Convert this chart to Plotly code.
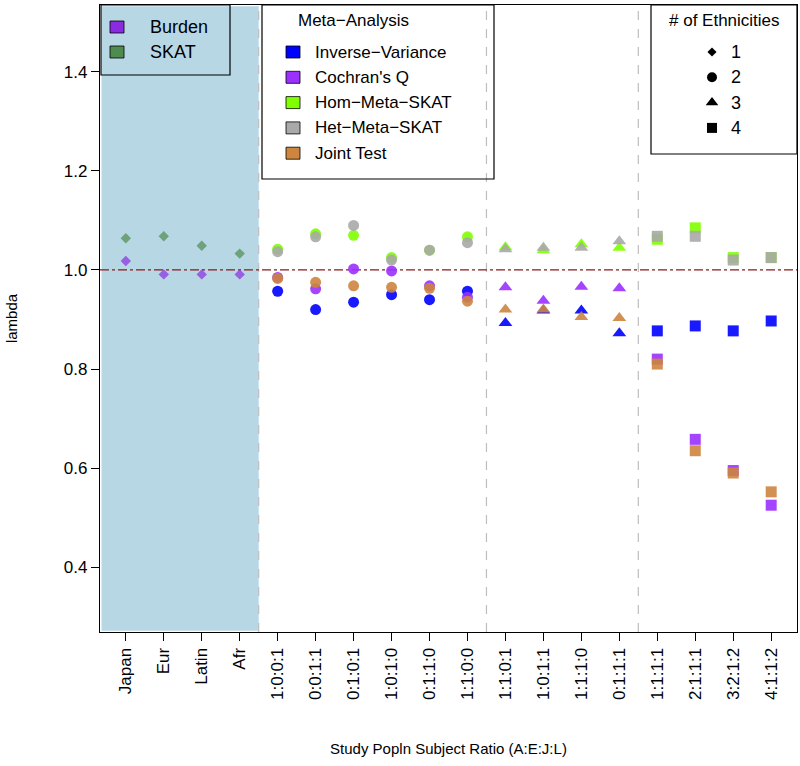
import plotly.graph_objects as go

categories = ["Japan", "Eur", "Latin", "Afr",
              "1:0:0:1", "0:0:1:1", "0:1:0:1", "1:0:1:0", "0:1:1:0", "1:1:0:0",
              "1:1:0:1", "1:0:1:1", "1:1:1:0", "0:1:1:1",
              "1:1:1:1", "2:1:1:1", "3:2:1:2", "4:1:1:2"]
n_ethnicities = [1, 1, 1, 1, 2, 2, 2, 2, 2, 2, 3, 3, 3, 3, 4, 4, 4, 4]

burden = [1.018, 0.991, 0.991, 0.991]
skat = [1.064, 1.068, 1.049, 1.033]

inverse_variance = [0.957, 0.920, 0.935, 0.950, 0.940, 0.957,
                    0.893, 0.918, 0.918, 0.872,
                    0.877, 0.887, 0.877, 0.897]
cochran_q = [0.985, 0.962, 1.002, 0.998, 0.968, 0.945,
             0.965, 0.938, 0.966, 0.963,
             0.820, 0.658, 0.595, 0.525]
hom_meta_skat = [1.042, 1.073, 1.070, 1.025, 1.040, 1.067,
                 1.046, 1.040, 1.052, 1.045,
                 1.062, 1.085, 1.025, 1.025]
het_meta_skat = [1.037, 1.067, 1.090, 1.020, 1.040, 1.055,
                 1.042, 1.045, 1.045, 1.058,
                 1.068, 1.068, 1.020, 1.025]
joint_test = [0.983, 0.975, 0.968, 0.965, 0.963, 0.937,
              0.920, 0.920, 0.905, 0.903,
              0.810, 0.635, 0.590, 0.552]

meta_names = ["Inverse\u2212Variance", "Cochran's Q", "Hom\u2212Meta\u2212SKAT", "Het\u2212Meta\u2212SKAT", "Joint Test"]
meta_colors = ["#0000FF", "#9B30FF", "#7FFF00", "#A9A9A9", "#CD853F"]
meta_values = [inverse_variance, cochran_q, hom_meta_skat, het_meta_skat, joint_test]
single_names = ["Burden", "SKAT"]
single_colors = ["#8A2BE2", "#4E8B4E"]
single_values = [burden, skat]

symbol_map = {1: "diamond", 2: "circle", 3: "triangle-up", 4: "square"}
size_map = {1: 8, 2: 11, 3: 12, 4: 11}

xpos = list(range(1, len(categories) + 1))
meta_x = xpos[4:]
single_x = xpos[:4]

fig = go.Figure()

# shaded region for single-ethnicity studies
fig.add_shape(type="rect", xref="x", yref="paper", x0=0.36, x1=4.5, y0=0.002, y1=0.998,
              fillcolor="#B7D7E5", line_width=0, layer="below")

for xv in [4.5, 10.5, 14.5]:
    fig.add_shape(type="line", xref="x", yref="paper", x0=xv, x1=xv, y0=0, y1=1,
                  line=dict(color="#BEBEBE", width=1.2, dash="dash"), layer="below")

fig.add_shape(type="line", xref="paper", yref="y", x0=0, x1=1, y0=1.0, y1=1.0,
              line=dict(color="#8B1A1A", width=1.2, dash="dashdot"), layer="below")

for name, col, vals in zip(single_names, single_colors, single_values):
    eth = n_ethnicities[:4]
    fig.add_trace(go.Scatter(x=single_x, y=vals, mode="markers", name=name,
                             marker=dict(color=col, symbol=[symbol_map[e] for e in eth],
                                         size=[size_map[e] for e in eth], line_width=0),
                             showlegend=False))

for name, col, vals in zip(meta_names, meta_colors, meta_values):
    eth = n_ethnicities[4:]
    fig.add_trace(go.Scatter(x=meta_x, y=vals, mode="markers", name=name,
                             marker=dict(color=col, symbol=[symbol_map[e] for e in eth],
                                         size=[size_map[e] for e in eth], line_width=0,
                                         opacity=0.9),
                             showlegend=False))

# ---- manual legends (paper coords) ----
L, R_, T, B = 100, 797, 5, 632
W, H = R_ - L, B - T
def px(x):
    return (x - L) / W
def py(y):
    return (B - y) / H

def box(x0, y0, x1, y1):
    fig.add_shape(type="rect", xref="paper", yref="paper", x0=px(x0), x1=px(x1),
                  y0=py(y1), y1=py(y0), line=dict(color="black", width=1.2))

def swatch(cx, cy, color, w=14, h=12):
    fig.add_shape(type="rect", xref="paper", yref="paper",
                  x0=px(cx - w / 2), x1=px(cx + w / 2), y0=py(cy + h / 2), y1=py(cy - h / 2),
                  fillcolor=color, line=dict(color="black", width=0.8))

def text(x, y, s, size=16, anchor="left"):
    fig.add_annotation(xref="paper", yref="paper", x=px(x), y=py(y), text=s, showarrow=False,
                       xanchor=anchor, yanchor="middle", font=dict(size=size, color="black"))

# legend 1
box(101, 5, 230, 75)
for i, (n, c) in enumerate(zip(single_names, single_colors)):
    swatch(117, 27 + i * 25, c)
    text(148, 27 + i * 25, n, size=18)

# legend 2
box(262, 5, 494, 179)
text(353, 21, "Meta\u2212Analysis", size=17, anchor="center")
for i, (n, c) in enumerate(zip(meta_names, meta_colors)):
    swatch(293, 52 + i * 25.3, c)
    text(313, 52 + i * 25.3, n, size=17)

# legend 3
box(651, 5, 797, 154)
text(724, 21, "# of Ethnicities", size=17, anchor="center")
for i, k in enumerate([1, 2, 3, 4]):
    fig.add_trace(go.Scatter(x=[px(712)], y=[py(52 + i * 25.3)], xaxis="x2", yaxis="y2",
                             mode="markers", showlegend=False, hoverinfo="skip",
                             marker=dict(color="black", symbol=symbol_map[k], size=size_map[k] - 1)))
    text(729, 52 + i * 25.3, str(k), size=18)

fig.update_layout(
    width=800, height=766,
    margin=dict(l=L, r=800 - R_, t=T, b=766 - B, autoexpand=False),
    plot_bgcolor="white", paper_bgcolor="white",
    font=dict(family="Liberation Sans, Arial, sans-serif", color="black"),
    showlegend=False,
    xaxis=dict(range=[0.32, 18.68], tickvals=xpos, ticktext=categories, tickangle=-90,
               showline=True, linecolor="black", linewidth=1.2, mirror=True, automargin=False,
               ticks="outside", ticklen=8, tickcolor="black", showgrid=False, zeroline=False,
               tickfont=dict(size=17),
               title=dict(text="Study Popln Subject Ratio (A:E:J:L)", font=dict(size=15), standoff=44)),
    yaxis=dict(range=[0.269, 1.535], tickvals=[0.4, 0.6, 0.8, 1.0, 1.2, 1.4],
               ticktext=["0.4", "0.6", "0.8", "1.0", "1.2", "1.4"],
               showline=True, linecolor="black", linewidth=1.2, mirror=True, automargin=False,
               ticks="outside", ticklen=8, tickcolor="black", showgrid=False, zeroline=False,
               tickfont=dict(size=17),
               title=dict(text="lambda", font=dict(size=15), standoff=42)),
    xaxis2=dict(range=[0, 1], overlaying="x", visible=False),
    yaxis2=dict(range=[0, 1], overlaying="y", visible=False),
)

fig.write_html("out.html", config={"displayModeBar": False},
               post_script="document.body.style.margin='0';document.body.style.overflow='hidden';")
